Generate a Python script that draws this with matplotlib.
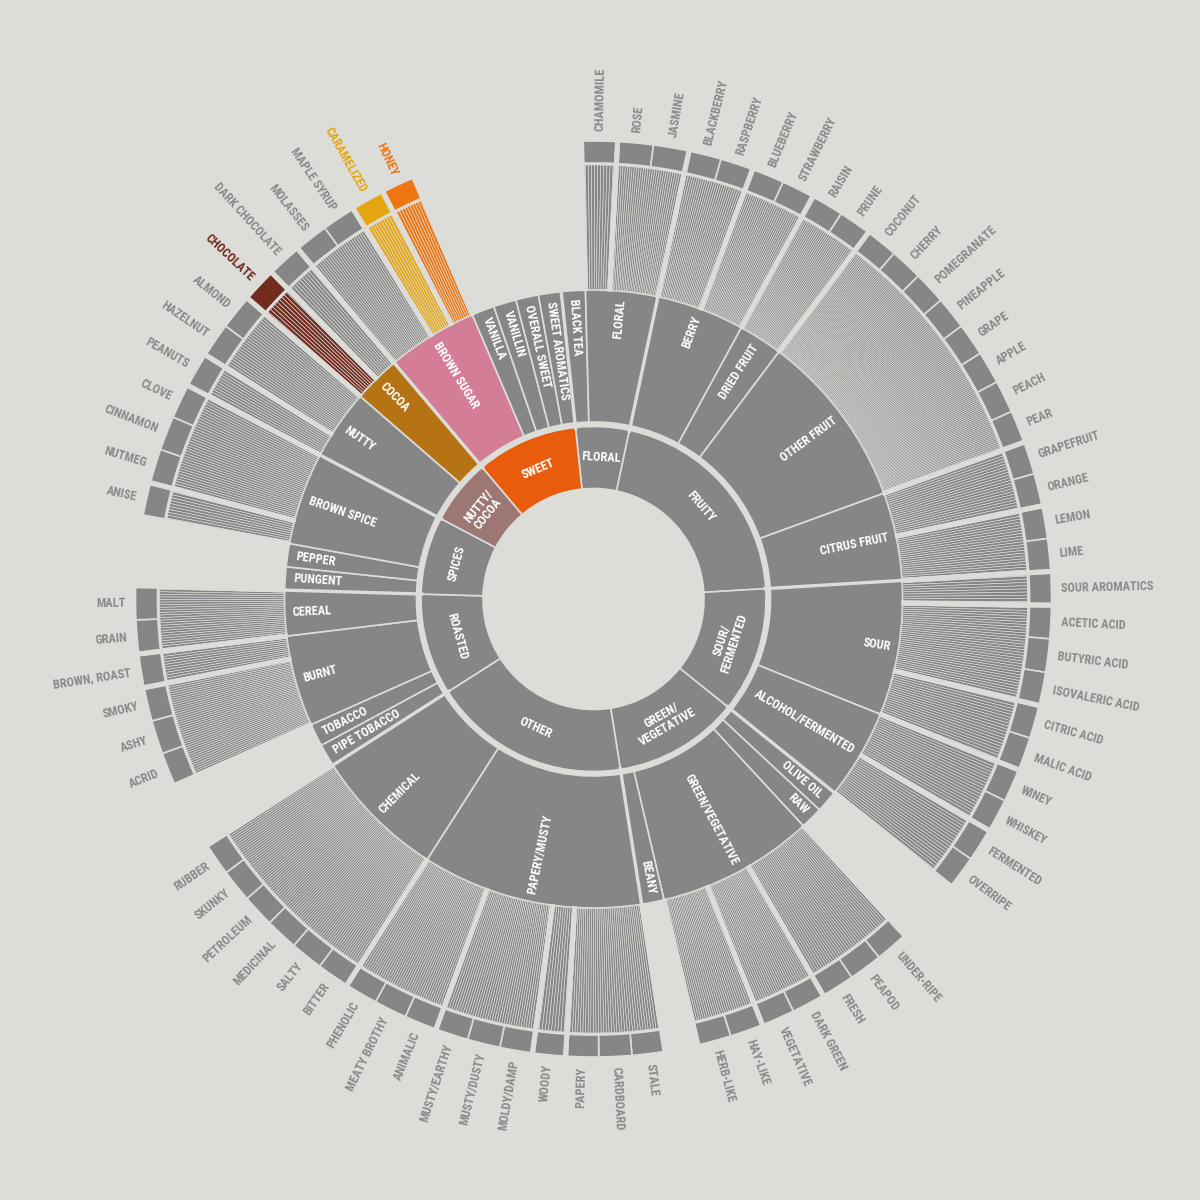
import os
import numpy as np
import matplotlib.pyplot as plt
from matplotlib import font_manager

BG = '#dcddd8'
GRAY = '#868686'
LABEL_GRAY = '#8a8a8a'

# inner ring, clockwise from the top
L1 = ['FLORAL', 'FRUITY', 'SOUR/\nFERMENTED', 'GREEN/\nVEGETATIVE', 'OTHER',
      'ROASTED', 'SPICES', 'NUTTY/\nCOCOA', 'SWEET']

# second ring
L2 = ['BLACK TEA', 'FLORAL',
      'BERRY', 'DRIED FRUIT', 'OTHER FRUIT', 'CITRUS FRUIT',
      'SOUR', 'ALCOHOL/FERMENTED',
      'OLIVE OIL', 'RAW', 'GREEN/VEGETATIVE', 'BEANY',
      'PAPERY/MUSTY', 'CHEMICAL',
      'PIPE TOBACCO', 'TOBACCO', 'BURNT', 'CEREAL',
      'PUNGENT', 'PEPPER', 'BROWN SPICE',
      'NUTTY', 'COCOA',
      'BROWN SUGAR', 'VANILLA', 'VANILLIN', 'OVERALL SWEET', 'SWEET AROMATICS']
L2_PARENT = ['FLORAL', 'FLORAL',
             'FRUITY', 'FRUITY', 'FRUITY', 'FRUITY',
             'SOUR/\nFERMENTED', 'SOUR/\nFERMENTED',
             'GREEN/\nVEGETATIVE', 'GREEN/\nVEGETATIVE', 'GREEN/\nVEGETATIVE', 'GREEN/\nVEGETATIVE',
             'OTHER', 'OTHER',
             'ROASTED', 'ROASTED', 'ROASTED', 'ROASTED',
             'SPICES', 'SPICES', 'SPICES',
             'NUTTY/\nCOCOA', 'NUTTY/\nCOCOA',
             'SWEET', 'SWEET', 'SWEET', 'SWEET', 'SWEET']

# outer flavours, in striped groups
GROUPS = [['CHAMOMILE'], ['ROSE', 'JASMINE'],
          ['BLACKBERRY', 'RASPBERRY'], ['BLUEBERRY', 'STRAWBERRY'],
          ['RAISIN', 'PRUNE'],
          ['COCONUT', 'CHERRY', 'POMEGRANATE', 'PINEAPPLE', 'GRAPE', 'APPLE', 'PEACH', 'PEAR'],
          ['GRAPEFRUIT', 'ORANGE'], ['LEMON', 'LIME'],
          ['SOUR AROMATICS'], ['ACETIC ACID', 'BUTYRIC ACID', 'ISOVALERIC ACID'],
          ['CITRIC ACID', 'MALIC ACID'],
          ['WINEY', 'WHISKEY'], ['FERMENTED', 'OVERRIPE'],
          ['UNDER-RIPE', 'PEAPOD', 'FRESH'], ['DARK GREEN', 'VEGETATIVE'], ['HAY-LIKE', 'HERB-LIKE'],
          ['STALE', 'CARDBOARD', 'PAPERY'], ['WOODY'],
          ['MOLDY/DAMP', 'MUSTY/DUSTY', 'MUSTY/EARTHY'], ['ANIMALIC', 'MEATY BROTHY', 'PHENOLIC'],
          ['BITTER', 'SALTY', 'MEDICINAL', 'PETROLEUM', 'SKUNKY', 'RUBBER'],
          ['ACRID', 'ASHY', 'SMOKY'], ['BROWN, ROAST'],
          ['GRAIN', 'MALT'],
          ['ANISE'], ['NUTMEG', 'CINNAMON', 'CLOVE'],
          ['PEANUTS'], ['HAZELNUT', 'ALMOND'],
          ['CHOCOLATE'], ['DARK CHOCOLATE'],
          ['MOLASSES', 'MAPLE SYRUP'], ['CARAMELIZED'], ['HONEY']]
GROUP_PARENT = ['FLORAL', 'FLORAL', 'BERRY', 'BERRY', 'DRIED FRUIT', 'OTHER FRUIT',
                'CITRUS FRUIT', 'CITRUS FRUIT', 'SOUR', 'SOUR', 'SOUR',
                'ALCOHOL/FERMENTED', 'ALCOHOL/FERMENTED',
                'GREEN/VEGETATIVE', 'GREEN/VEGETATIVE', 'GREEN/VEGETATIVE',
                'PAPERY/MUSTY', 'PAPERY/MUSTY', 'PAPERY/MUSTY', 'PAPERY/MUSTY',
                'CHEMICAL', 'BURNT', 'BURNT', 'CEREAL', 'BROWN SPICE', 'BROWN SPICE',
                'NUTTY', 'NUTTY', 'COCOA', 'COCOA', 'BROWN SUGAR', 'BROWN SUGAR', 'BROWN SUGAR']
GROUP_STRIPES = [11, 30, 28, 30, 32, 140, 22, 22, 10, 34, 21, 21, 21, 38, 29, 29,
                 36, 10, 38, 41, 83, 43, 12, 25, 11, 37, 12, 25, 10, 11, 26, 11, 11]

L1_COLORS = {'SWEET': '#e95c0e', 'NUTTY/\nCOCOA': '#9c7773'}
L2_COLORS = {'BROWN SUGAR': '#d37d97', 'COCOA': '#b57313'}
LEAF_COLORS = {'CHOCOLATE': '#722b1f', 'CARAMELIZED': '#e6a612', 'HONEY': '#ef7612'}
START_DEG = -6.0
L1_PAD = 1.9


def condensed_bold():
    files = [f.fname for f in font_manager.fontManager.ttflist]
    prefs = ['robotocondensed-bold', 'liberationsansnarrow-bold', 'notosans-condensedbold',
             'dejavusanscondensed-bold', 'opensans-condensedbold', 'opensanscondensed-bold']
    for p in prefs:
        for fn in files:
            base = os.path.splitext(os.path.basename(fn))[0].lower().replace('_', '').replace(' ', '')
            if base == p:
                return fn
    for fn in files:
        b = os.path.basename(fn)
        if ('Condensed' in b or 'Narrow' in b) and 'Bold' in b and 'Italic' not in b \
                and 'Extra' not in b and 'Semi' not in b:
            return fn
    return None


cfile = condensed_bold()
if cfile:
    FP = font_manager.FontProperties(fname=cfile, size=8.8)
else:
    FP = font_manager.FontProperties(family='Liberation Sans', weight='bold', size=7.6)

# angular layout: every outermost item takes one step, plus padding per inner group
n_l2 = []
for name in L2:
    n = sum(len(g) for g, p in zip(GROUPS, GROUP_PARENT) if p == name)
    n_l2.append(max(n, 1))
base_step = (360.0 - L1_PAD * len(L1)) / sum(n_l2)
l1_units = {name: sum(n for n, p in zip(n_l2, L2_PARENT) if p == name) for name in L1}

l2_span, l2_step = {}, {}
pos = START_DEG
for name, n, parent in zip(L2, n_l2, L2_PARENT):
    s = base_step + L1_PAD / l1_units[parent]
    l2_step[name] = s
    l2_span[name] = (pos, pos + n * s)
    pos += n * s
l1_span = {}
for name in L1:
    kids = [l2_span[c] for c, p in zip(L2, L2_PARENT) if p == name]
    l1_span[name] = (kids[0][0], kids[-1][1])
group_span = []
cursor = {name: l2_span[name][0] for name in L2}
for g, p in zip(GROUPS, GROUP_PARENT):
    a0 = cursor[p]
    group_span.append((a0, a0 + len(g) * l2_step[p]))
    cursor[p] = group_span[-1][1]


def wedge(ax, a0, a1, r0, r1, color, lw=1.2):
    ax.bar(np.radians((a0 + a1) / 2), r1 - r0, width=np.radians(a1 - a0), bottom=r0,
           color=color, edgecolor=BG, linewidth=lw)


def separator(ax, a, r0, r1, lw):
    ax.plot([np.radians(a)] * 2, [r0, r1], color=BG, lw=lw, solid_capstyle='butt')


def radial_rot(theta):
    rot = (90 - theta + 180) % 360 - 180
    if rot > 90 or rot < -90:
        return (rot + 360) % 360 - 180, True
    return rot, False


def tangent_rot(theta):
    rot = (-theta + 180) % 360 - 180
    if rot > 90 or rot < -90:
        rot = (rot + 360) % 360 - 180
    return rot


fig = plt.figure(figsize=(12, 12), dpi=100, facecolor=BG)
ax = fig.add_axes([(593.5 - 600) / 1200, 1 / 1200, 1, 1], projection='polar')
ax.set_theta_zero_location('N')
ax.set_theta_direction(-1)
ax.set_ylim(0, 600)
ax.set_axis_off()

text_kw = dict(fontproperties=FP, rotation_mode='anchor', va='center')

# inner ring
for name in L1:
    a0, a1 = l1_span[name]
    wedge(ax, a0, a1, 110.5, 172.5, L1_COLORS.get(name, GRAY))
    mid = (a0 + a1) / 2
    ax.text(np.radians(mid), 141.5, name, rotation=tangent_rot(mid), ha='center',
            color='white', linespacing=0.95, multialignment='center', **text_kw)

# second ring
for name in L2:
    a0, a1 = l2_span[name]
    wedge(ax, a0, a1, 177, 309, L2_COLORS.get(name, GRAY))
    mid = (a0 + a1) / 2
    rot, flip = radial_rot(mid)
    ax.text(np.radians(mid), 301, name, rotation=rot, ha='left' if flip else 'right',
            color='white', **text_kw)

# stripes and flavour boxes
for g, p, (a0, a1), n in zip(GROUPS, GROUP_PARENT, group_span, GROUP_STRIPES):
    color = LEAF_COLORS.get(g[0], GRAY)
    edges = np.linspace(a0, a1, n + 1)
    ax.bar(np.radians((edges[:-1] + edges[1:]) / 2), 124.5, width=np.radians(edges[1] - edges[0]),
           bottom=309.5, color=color, edgecolor=BG, linewidth=0.45)
    s = l2_step[p]
    for i, leaf in enumerate(g):
        b0 = a0 + i * s
        wedge(ax, b0, b0 + s, 436, 458, LEAF_COLORS.get(leaf, GRAY))
        mid = b0 + s / 2
        rot, flip = radial_rot(mid)
        ax.text(np.radians(mid), 468, leaf, rotation=rot, ha='right' if flip else 'left',
                color=LEAF_COLORS.get(leaf, LABEL_GRAY), **text_kw)

for a0, a1 in group_span:
    separator(ax, a0, 308, 462, 3.6)
    separator(ax, a1, 308, 462, 3.6)
for a0, a1 in l1_span.values():
    separator(ax, a0, 170, 310, 2.4)

fig.savefig('out.png', dpi=100, facecolor=BG)
